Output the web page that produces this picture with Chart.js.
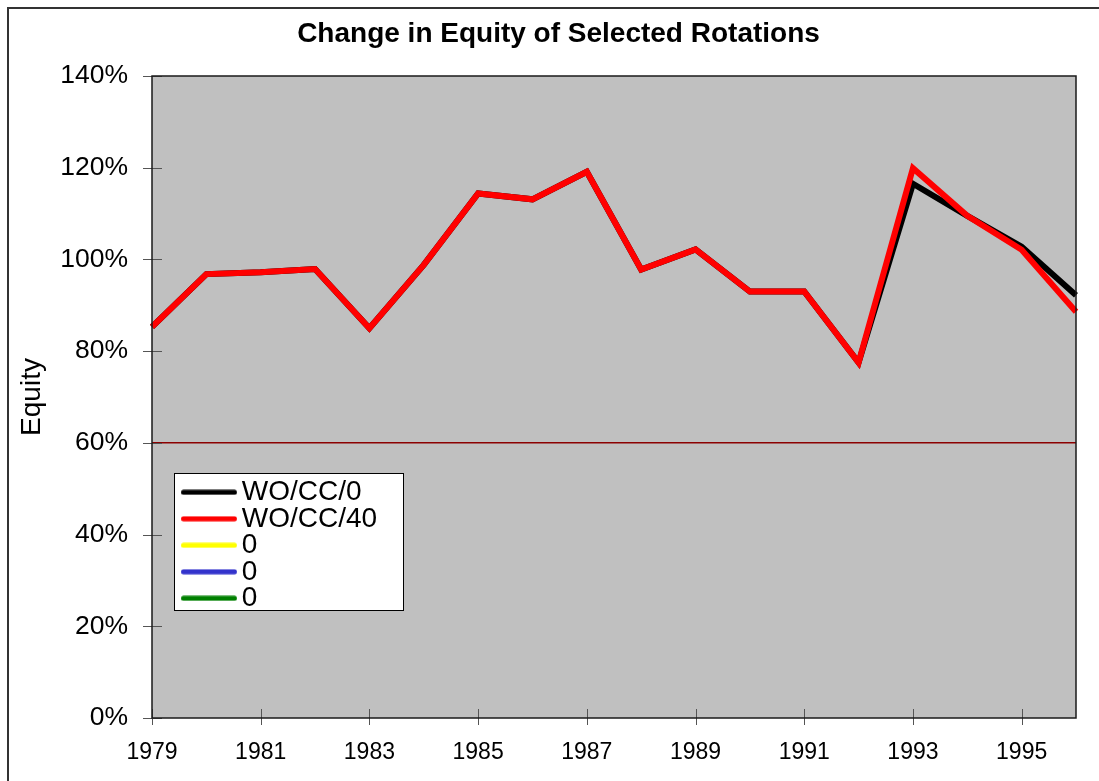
<!DOCTYPE html>
<html><head><meta charset="utf-8">
<script src="https://cdn.jsdelivr.net/npm/chart.js@4.4.1/dist/chart.umd.min.js"></script>
<style>
html,body{margin:0;padding:0;background:#fff;overflow:hidden;width:1099px;height:781px;}
#wrap{position:absolute;left:7px;top:7px;border:2px solid #333;width:1099px;height:800px;}
canvas{display:block;}
</style></head><body>
<div id="wrap"><canvas id="c" width="1099" height="800"></canvas></div>
<script>
const titleText = 'Change in Equity of Selected Rotations';
const yAxisTitle = 'Equity';
const years = ['1979','1980','1981','1982','1983','1984','1985','1986','1987','1988','1989','1990','1991','1992','1993','1994','1995','1996'];
const seriesNames = ['WO/CC/0','WO/CC/40','0','0','0'];
const seriesColors = ['#000000','#FF0000','#FFFF00','#3333CC','#008000'];
const woCc0  = [85.3, 96.8, 97.2, 97.9, 85.0, 98.8, 114.4, 113.1, 119.1, 97.8, 102.2, 93.0, 93.0, 77.5, 116.5, 109.5, 102.8, 92.2];
const woCc40 = [85.3, 96.8, 97.2, 97.9, 85.0, 98.8, 114.4, 113.1, 119.1, 97.8, 102.2, 93.0, 93.0, 77.5, 119.9, 109.5, 102.1, 88.6];
const series3 = [];
const series4 = [];
const series5 = [];
const yMin = 0, yMax = 140, yStep = 20;
const referenceLevel = 60;

const FONT = "'Liberation Sans', Arial, sans-serif";
Chart.defaults.font.family = FONT;
Chart.defaults.color = '#000';

// legend sample: 67px wide image, line drawn in its right part
function swatch(color) {
  const c = document.createElement('canvas');
  c.width = 67; c.height = 6;
  const g = c.getContext('2d');
  g.strokeStyle = color; g.lineWidth = 5; g.lineCap = 'round';
  g.beginPath(); g.moveTo(13.4, 3); g.lineTo(64.4, 3); g.stroke();
  return c;
}

const framePlugin = {
  id: 'frame',
  afterLayout(chart) {
    const ca = chart.chartArea, lg = chart.legend;
    const w = lg.width;
    lg.left = ca.left + 29; lg.top = ca.top + 403.8;
    lg.right = lg.left + w + 60; lg.bottom = lg.top + 200;
  },
  beforeDraw(chart) {
    const {ctx, chartArea: ca} = chart;
    ctx.save();
    ctx.fillStyle = '#C0C0C0';
    ctx.fillRect(ca.left, ca.top, ca.right - ca.left, ca.bottom - ca.top);
    const fx = ca.left + 22, fy = ca.top + 397;
    ctx.fillStyle = '#FFFFFF';
    ctx.fillRect(fx, fy, 229, 137);
    ctx.strokeStyle = '#000'; ctx.lineWidth = 1;
    ctx.strokeRect(fx + 0.5, fy + 0.5, 229, 137);
    ctx.restore();
  },
  beforeDatasetsDraw(chart) {
    const {ctx, chartArea: ca, scales} = chart;
    ctx.save();
    ctx.strokeStyle = '#555'; ctx.lineWidth = 1;
    ctx.beginPath();
    for (let i = 0; i < years.length; i += 2) {
      const x = Math.round(scales.x.getPixelForValue(i)) + 0.5;
      ctx.moveTo(x, ca.bottom - 9); ctx.lineTo(x, ca.bottom + 7);
    }
    for (let v = yMin; v <= yMax; v += yStep) {
      const y = Math.round(scales.y.getPixelForValue(v)) + 0.5;
      ctx.moveTo(ca.left - 9, y); ctx.lineTo(ca.left + 10, y);
    }
    ctx.stroke();
    ctx.restore();
  },
  afterDraw(chart) {
    const {ctx, chartArea: ca} = chart;
    ctx.save();
    ctx.strokeStyle = '#1a1a1a'; ctx.lineWidth = 1.5;
    ctx.strokeRect(ca.left, ca.top, ca.right - ca.left, ca.bottom - ca.top);
    ctx.restore();
  }
};

const allSeries = [woCc0, woCc40, series3, series4, series5];
const datasets = allSeries.map((d, i) => ({
  label: seriesNames[i],
  data: d,
  borderColor: seriesColors[i],
  backgroundColor: seriesColors[i],
  borderWidth: 6,
  pointRadius: 0,
  tension: 0,
  fill: false,
  order: i === 1 ? 0 : i + 1
}));

new Chart(document.getElementById('c'), {
  type: 'line',
  data: { labels: years, datasets },
  plugins: [framePlugin],
  options: {
    responsive: false,
    animation: false,
    layout: { padding: 0 },
    plugins: {
      title: {
        display: true, text: titleText, color: '#000',
        font: { size: 28, weight: 'bold', lineHeight: 1.2 },
        padding: { top: 8.2, bottom: 25.2 }
      },
      legend: {
        position: 'chartArea', align: 'start',
        labels: {
          usePointStyle: true, pointStyleWidth: 48.2, padding: -1.5,
          font: { size: 28 }, color: '#000',
          sort: (a, b) => a.datasetIndex - b.datasetIndex,
          generateLabels(chart) {
            const items = Chart.defaults.plugins.legend.labels.generateLabels(chart);
            items.forEach(it => { it.pointStyle = swatch(seriesColors[it.datasetIndex]); });
            return items;
          }
        }
      },
      tooltip: { enabled: false }
    },
    scales: {
      x: {
        type: 'category', offset: false,
        grid: { display: false, drawTicks: false },
        border: { display: false },
        ticks: {
          autoSkip: false, maxRotation: 0, padding: 21,
          font: { size: 23, lineHeight: 1.2 }, color: '#000',
          callback: (v, i) => (i % 2 === 0 ? years[i] : '')
        },
        afterFit(s) { s.height = 91; }
      },
      y: {
        min: yMin, max: yMax,
        grid: {
          drawTicks: false,
          color: c => (c.tick && c.tick.value === referenceLevel ? '#8B0000' : 'rgba(0,0,0,0)'),
          lineWidth: 1.5
        },
        border: { display: false },
        ticks: {
          stepSize: yStep, padding: 24, color: '#000',
          font: { size: 26.5 },
          callback: v => v + '%'
        },
        title: {
          display: true, text: yAxisTitle, color: '#000',
          font: { size: 28, lineHeight: 1.2 },
          padding: { top: 6.2, bottom: 0 }
        },
        afterFit(s) { s.width = 143; }
      },
      yR: {
        position: 'right', display: true,
        grid: { display: false, drawTicks: false },
        border: { display: false },
        ticks: { display: false },
        afterFit(s) { s.width = 32; }
      }
    }
  }
});
</script>
</body></html>
